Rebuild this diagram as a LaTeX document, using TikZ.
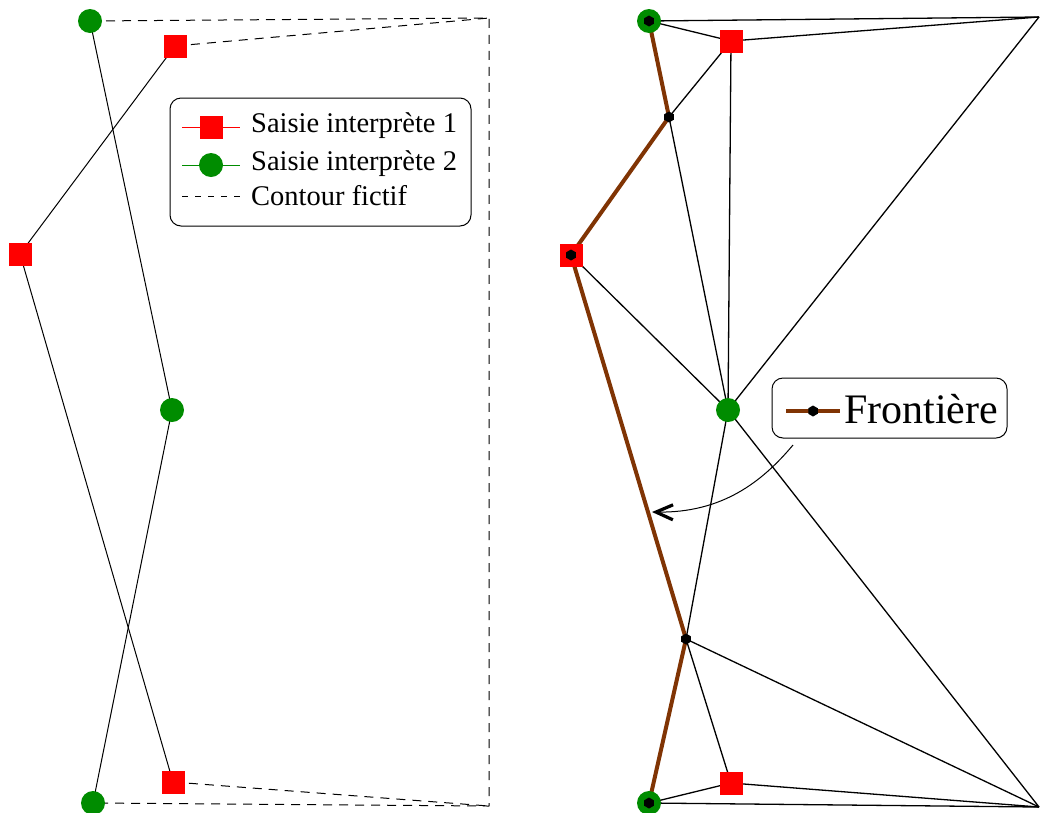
\documentclass[tikz,border=0pt]{standalone}
\usepackage{fontspec}
\setmainfont{Liberation Serif}
\usepackage{xcolor}
\usetikzlibrary{arrows.meta,shapes.geometric}

\definecolor{vertsaisie}{RGB}{0,140,0}
\definecolor{brunfront}{RGB}{128,52,4}

\begin{document}
\begin{tikzpicture}[
    x = 1pt, y = -1pt, % one unit per pixel, y going down
    line join = round,
    line cap = butt
]
\tikzstyle{carre}=[fill = red, minimum size = 23pt, inner sep = 0pt]
\tikzstyle{rond}=[circle, fill = vertsaisie, minimum size = 24pt, inner sep = 0pt]
\tikzstyle{hexa}=[
    regular polygon, regular polygon sides = 6,
    shape border rotate = 30,
    fill = black,
    minimum size = 11pt,
    inner sep = 0pt
]
\tikzstyle{fictif}=[line width = 1pt, dash pattern = on 9pt off 7pt]
\tikzstyle{maille}=[line width = 1.3pt]
\tikzstyle{frontiere}=[brunfront, line width = 4pt]
\tikzstyle{legende}=[draw, line width = 1pt, rounded corners = 11pt, inner sep = 0pt]
\tikzstyle{texte}=[anchor = base west, inner sep = 0pt]

\useasboundingbox (0,0) rectangle (1040,812);

% left: the two interpretations
\coordinate (g1) at (90,21);
\coordinate (g2) at (172,410);
\coordinate (g3) at (93,803);
\coordinate (r1) at (175,46);
\coordinate (r2) at (20,254);
\coordinate (r3) at (173,782);
\coordinate (ch) at (489,18);
\coordinate (cb) at (489,806);

\draw[line width = 1pt] (r1) -- (r2) -- (r3);
\draw[line width = 1pt] (g1) -- (g2) -- (g3);
\draw[fictif] (g1) -- (ch) -- (cb) -- (g3);
\draw[fictif] (r1) -- (ch);
\draw[fictif] (r3) -- (cb);

\foreach \p in {r1,r2,r3}
    \node[carre] (m\p) at (\p) {};
\foreach \p in {g1,g2,g3}
    \node[rond] (m\p) at (\p) {};

% legend
\node[legende, minimum width = 301pt, minimum height = 128pt] (leg) at (320.5,162) {};
\coordinate (la1) at (182,127);
\coordinate (lb1) at (240,127);
\coordinate (la2) at (182,165);
\coordinate (lb2) at (240,165);
\coordinate (la3) at (182,196);
\coordinate (lb3) at (240,196);
\draw[red, line width = 1pt] (la1) -- (lb1);
\draw[vertsaisie, line width = 1pt] (la2) -- (lb2);
\draw[line width = 1pt, dash pattern = on 6pt off 7pt] (la3) -- (lb3);
\node[carre] (lm1) at (211,127) {};
\node[rond] (lm2) at (211,165) {};
\node[texte, font = \fontsize{28.5}{30}\selectfont] (lt1) at (251,132) {Saisie interprète 1};
\node[texte, font = \fontsize{28.5}{30}\selectfont] (lt2) at (251,170) {Saisie interprète 2};
\node[texte, font = \fontsize{28.5}{30}\selectfont] (lt3) at (251,205) {Contour fictif};

% right: the triangulation
\coordinate (G1) at (649,21);
\coordinate (G2) at (728,410);
\coordinate (G3) at (649,803);
\coordinate (R1) at (731,41);
\coordinate (R2) at (571,255);
\coordinate (R3) at (731,783);
\coordinate (P1) at (669,117);
\coordinate (P2) at (686,639);
\coordinate (CH) at (1039,17);
\coordinate (CB) at (1039,807);

\foreach \a/\b in {G1/CH, G1/R1, R1/CH, P1/R1, P1/G2, R1/G2, G2/CH, R2/G2,
                   G2/P2, G2/CB, P2/CB, P2/R3, G3/R3, R3/CB, G3/CB}
    \draw[maille] (\a) -- (\b);
\draw[frontiere] (G1) -- (P1) -- (R2) -- (P2) -- (G3);

\foreach \p in {R1,R2,R3}
    \node[carre] (m\p) at (\p) {};
\foreach \p in {G1,G2,G3}
    \node[rond] (m\p) at (\p) {};
\foreach \p in {G1,P1,R2,P2,G3}
    \node[hexa] (h\p) at (\p) {};

% boundary legend
\node[legende, minimum width = 235pt, minimum height = 60pt] (fleg) at (889.5,408) {};
\coordinate (fa) at (786,411);
\coordinate (fb) at (840,411);
\draw[frontiere] (fa) -- (fb);
\node[hexa] (fh) at (813,411) {};
\node[texte, font = \fontsize{42}{44}\selectfont] (ft) at (844,423) {Frontière};

\coordinate (fs) at (793,445);
\coordinate (fe) at (652,512);
\draw[line width = 1pt, -{Straight Barb[length = 17pt, width = 15pt, line width = 3.2pt]}]
    (fs) .. controls (762,482) and (722,513) .. (fe);

\end{tikzpicture}
\end{document}
